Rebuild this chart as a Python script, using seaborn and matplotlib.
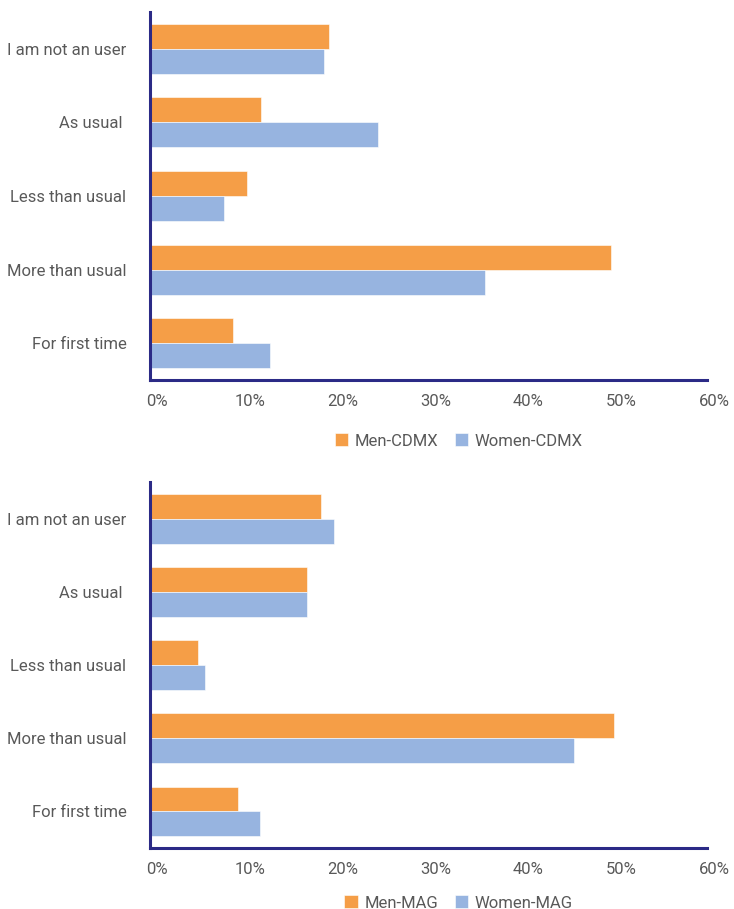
import pandas as pd
import seaborn as sns
import matplotlib.pyplot as plt
import matplotlib.transforms as mtransforms
from matplotlib.ticker import PercentFormatter

categorias = ["I am not an user", "As usual ", "Less than usual", "More than usual", "For first time"]

men_cdmx = [19.3, 11.9, 10.4, 49.7, 8.9]
women_cdmx = [18.7, 24.6, 8.0, 36.1, 12.9]

men_mag = [18.4, 16.9, 5.2, 50.0, 9.5]
women_mag = [19.8, 16.9, 5.9, 45.7, 11.8]

laranja = "#F59E47"
azul = "#97B4E0"
marinho = "#2B2A86"
cinza = "#595959"

sns.set_style("white")
plt.rcParams["font.family"] = ["Roboto", "DejaVu Sans"]


def monta_tabela(men, women, sufixo):
    linhas = []
    for cat, m, w in zip(categorias, men, women):
        linhas.append({"cat": cat, "grupo": "Men-" + sufixo, "valor": m})
        linhas.append({"cat": cat, "grupo": "Women-" + sufixo, "valor": w})
    return pd.DataFrame(linhas)


fig = plt.figure(figsize=(7.34, 9.09), dpi=100)
ax1 = fig.add_axes([0.2044, 0.582, 0.7589, 0.4048])
ax2 = fig.add_axes([0.2044, 0.0671, 0.7589, 0.4026])

paineis = [
    (ax1, monta_tabela(men_cdmx, women_cdmx, "CDMX"), 1 - 441 / 909),
    (ax2, monta_tabela(men_mag, women_mag, "MAG"), 1 - 903 / 909),
]

desloca = mtransforms.ScaledTranslation(7 / 100, 0, fig.dpi_scale_trans)

for ax, tabela, y_leg in paineis:
    sns.barplot(data=tabela, x="valor", y="cat", hue="grupo", orient="h",
                palette=[laranja, azul], width=0.68, saturation=1,
                edgecolor="white", linewidth=0.4, ax=ax)
    ax.set_xlim(0, 60)
    ax.set_ylim(4.5, -0.5)
    ax.set_xticks(range(0, 61, 10))
    ax.xaxis.set_major_formatter(PercentFormatter(decimals=0))
    ax.set_xlabel("")
    ax.set_ylabel("")
    for lado in ["top", "right"]:
        ax.spines[lado].set_visible(False)
    for lado in ["left", "bottom"]:
        ax.spines[lado].set_color(marinho)
        ax.spines[lado].set_linewidth(2.2)
    ax.tick_params(axis="x", direction="in", length=3, width=1.5, color=marinho,
                   labelsize=12, labelcolor=cinza, pad=10)
    ax.tick_params(axis="y", length=0, labelsize=12, labelcolor=cinza, pad=17)
    for rotulo in ax.get_xticklabels():
        rotulo.set_transform(rotulo.get_transform() + desloca)
    ax.get_legend().remove()
    handles, labels = ax.get_legend_handles_labels()
    fig.legend(handles, labels, loc="center", bbox_to_anchor=(0.625, y_leg),
               ncol=2, frameon=False, fontsize=12, labelcolor=cinza,
               handlelength=0.8, handleheight=0.8, handletextpad=0.4, columnspacing=1.0)

fig.savefig("out.png", dpi=100)
